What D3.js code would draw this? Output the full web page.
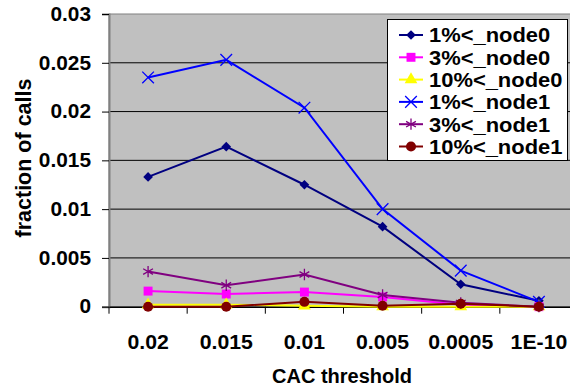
<!DOCTYPE html>
<html>
<head>
<meta charset="utf-8">
<script src="https://cdn.jsdelivr.net/npm/d3@7"></script>
<style>
  body { margin: 0; background: #fff; }
  text { font-family: "Liberation Sans", Arial, sans-serif; font-weight: bold; }
</style>
</head>
<body>
<div id="chart"></div>
<script>
// categories and tick labels
var categories = ["0.02", "0.015", "0.01", "0.005", "0.0005", "1E-10"];
var yTicks = [0, 0.005, 0.01, 0.015, 0.02, 0.025, 0.03];
var yTickLabels = ["0", "0.005", "0.01", "0.015", "0.02", "0.025", "0.03"];

// series values
var node0_1 = [0.0133, 0.0164, 0.0125, 0.0082, 0.0023, 0.0006];
var node0_3 = [0.0016, 0.0013, 0.0015, 0.0010, 0.0002, 0.0000];
var node0_10 = [0.0002, 0.0002, 0.0001, 0.0000, 0.0000, 0.0000];
var node1_1 = [0.0235, 0.0253, 0.0204, 0.0100, 0.0037, 0.0005];
var node1_3 = [0.0036, 0.0022, 0.0033, 0.0012, 0.0004, 0.0000];
var node1_10 = [0.0000, 0.0000, 0.0005, 0.0001, 0.0003, 0.0000];

var seriesNames = ["1%<_node0", "3%<_node0", "10%<_node0", "1%<_node1", "3%<_node1", "10%<_node1"];
var seriesValues = [node0_1, node0_3, node0_10, node1_1, node1_3, node1_10];
var seriesColors = ["#000080", "#FF00FF", "#FFFF00", "#0000FF", "#800080", "#800000"];
var seriesSymbols = [d3.symbolDiamond2, d3.symbolSquare, d3.symbolTriangle, d3.symbolTimes, d3.symbolAsterisk, d3.symbolCircle];
var symbolSizes = [60, 80, 70, 90, 90, 80];
var filled = [true, true, true, false, false, true];

var W = 570, H = 387;
var plot = {left: 109, top: 14, right: 578, bottom: 306.7};

var svg = d3.select("#chart").append("svg")
    .attr("width", W)
    .attr("height", H);

// scales
var x = d3.scaleBand()
    .domain(categories)
    .range([plot.left, plot.right])
    .padding(0);
var y = d3.scaleLinear()
    .domain([0, 0.03])
    .range([plot.bottom, plot.top]);

// plot background
svg.append("rect")
    .attr("x", plot.left)
    .attr("y", plot.top)
    .attr("width", plot.right - plot.left)
    .attr("height", plot.bottom - plot.top)
    .attr("fill", "#C0C0C0")
    .attr("stroke", "#808080");

// gridlines
svg.append("g").selectAll("line")
    .data(yTicks.slice(1, 6))
    .enter()
    .append("line")
    .attr("x1", plot.left)
    .attr("x2", plot.right)
    .attr("y1", function(d){ return y(d); })
    .attr("y2", function(d){ return y(d); })
    .attr("stroke", "#000")
    .attr("stroke-width", 1);

// Y axis
var yAxis = svg.append("g")
    .attr("transform", "translate(" + plot.left + ",0)")
    .call(d3.axisLeft(y).tickValues(yTicks).tickSize(7).tickPadding(11)
        .tickFormat(function(d, i){ return yTickLabels[i]; }));
yAxis.select(".domain").attr("stroke", "#808080").attr("stroke-width", 2);
yAxis.selectAll(".tick line").attr("stroke", "#000");
yAxis.selectAll("text")
    .style("font-size", "19.5px")
    .attr("fill", "#000")
    .attr("transform", "scale(1.07,1)")
    .attr("x", -18 / 1.07);

// X axis
var xAxis = svg.append("g")
    .attr("transform", "translate(0," + plot.bottom + ")")
    .call(d3.axisBottom(x).tickSize(0).tickPadding(28));
xAxis.select(".domain").attr("stroke", "#000").attr("stroke-width", 1.5);
xAxis.selectAll("text")
    .style("font-size", "19.5px")
    .attr("fill", "#000")
    .attr("transform", "scale(1.09,1)");
// tick marks between categories
svg.append("g").selectAll("line")
    .data(categories)
    .enter()
    .append("line")
    .attr("x1", function(d){ return x(d); })
    .attr("x2", function(d){ return x(d); })
    .attr("y1", plot.bottom)
    .attr("y2", plot.bottom + 7)
    .attr("stroke", "#000");

// axis titles
svg.append("text")
    .attr("transform", "translate(31,158) rotate(-90)")
    .attr("text-anchor", "middle")
    .style("font-size", "21.5px")
    .text("fraction of calls");
svg.append("text")
    .attr("x", 342)
    .attr("y", 383)
    .attr("text-anchor", "middle")
    .style("font-size", "20px")
    .text("CAC threshold");

// lines and markers
var line = d3.line()
    .x(function(d, i){ return x(categories[i]) + x.bandwidth() / 2; })
    .y(function(d){ return y(d); });

seriesValues.forEach(function(vals, s){
    var g = svg.append("g");
    g.append("path")
        .datum(vals)
        .attr("d", line)
        .attr("fill", "none")
        .attr("stroke", seriesColors[s])
        .attr("stroke-width", 2);
    g.selectAll("path.pt")
        .data(vals)
        .enter()
        .append("path")
        .attr("class", "pt")
        .attr("transform", function(d, i){
            return "translate(" + (x(categories[i]) + x.bandwidth() / 2) + "," + y(d) + ")";
        })
        .attr("d", d3.symbol().type(seriesSymbols[s]).size(symbolSizes[s]))
        .attr("fill", filled[s] ? seriesColors[s] : "none")
        .attr("stroke", seriesColors[s])
        .attr("stroke-width", filled[s] ? 0 : 1.3);
});

// legend
var legend = svg.append("g");
legend.append("rect")
    .attr("x", 387.5)
    .attr("y", 19.5)
    .attr("width", 180)
    .attr("height", 141)
    .attr("fill", "#fff")
    .attr("stroke", "#000");
seriesNames.forEach(function(name, s){
    var cy = 35 + s * 22.3;
    legend.append("line")
        .attr("x1", 399).attr("x2", 423)
        .attr("y1", cy).attr("y2", cy)
        .attr("stroke", seriesColors[s])
        .attr("stroke-width", 2);
    legend.append("path")
        .attr("transform", "translate(411," + cy + ")")
        .attr("d", d3.symbol().type(seriesSymbols[s]).size(symbolSizes[s]))
        .attr("fill", filled[s] ? seriesColors[s] : "none")
        .attr("stroke", seriesColors[s])
        .attr("stroke-width", filled[s] ? 0 : 1.3);
    legend.append("text")
        .attr("x", 429 / 1.07)
        .attr("y", cy + 7.5)
        .attr("transform", "scale(1.07,1)")
        .style("font-size", "20.5px")
        .text(name);
});
</script>
</body>
</html>
